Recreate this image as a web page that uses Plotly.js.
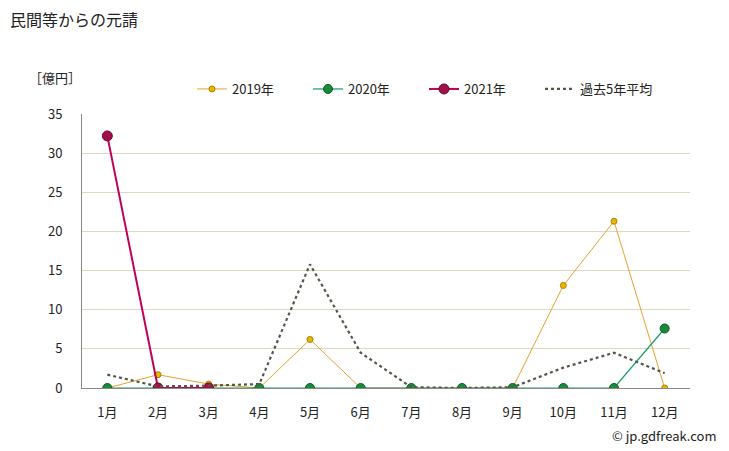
<!DOCTYPE html>
<html>
<head>
<meta charset="utf-8">
<script src="https://cdn.plot.ly/plotly-3.0.1.min.js"></script>
<style>body{margin:0;padding:0;background:#fff}#chart{width:729px;height:451px}</style>
</head>
<body>
<div id="chart"></div>
<script>
const months = ["1月","2月","3月","4月","5月","6月","7月","8月","9月","10月","11月","12月"];
const y2019 = [0, 1.7, 0.5, 0, 6.2, 0, 0, 0, 0, 13.1, 21.3, 0];
const y2020 = [0, 0, 0, 0, 0, 0, 0, 0, 0, 0, 0, 7.6];
const months2021 = ["1月","2月","3月"];
const y2021 = [32.2, 0, 0];
const avg5 = [1.7, 0.2, 0.3, 0.5, 15.8, 4.5, 0.1, 0, 0.1, 2.6, 4.5, 1.9];

const font = "'Noto Sans CJK JP', 'Noto Sans', sans-serif";

const traces = [
  {x: months, y: y2019, name: "2019年", type: "scatter", mode: "lines+markers",
   line: {color: "#e8a030", width: 1},
   marker: {color: "#e6b800", size: 6, line: {color: "#b08000", width: 1}}},
  {x: months, y: y2020, name: "2020年", type: "scatter", mode: "lines+markers",
   line: {color: "#10a060", width: 1.2},
   marker: {color: "#1a8a3a", size: 9, line: {color: "#0c5a24", width: 1}}},
  {x: months2021, y: y2021, name: "2021年", type: "scatter", mode: "lines+markers",
   line: {color: "#c0005a", width: 2},
   marker: {color: "#a0104a", size: 10, line: {color: "#6a0a30", width: 1}}},
  {x: months, y: avg5, name: "過去5年平均", type: "scatter", mode: "lines",
   line: {color: "#555548", width: 2.2, dash: "dot"}}
];

const layout = {
  width: 729, height: 451,
  margin: {l: 82, r: 39, t: 114, b: 63, autoexpand: false},
  paper_bgcolor: "#ffffff", plot_bgcolor: "#ffffff",
  font: {family: font, size: 13, color: "#222"},
  showlegend: true,
  legend: {orientation: "h", xref: "container", yref: "container",
           x: 192 / 729, xanchor: "left", y: 1 - 89 / 451, yanchor: "middle",
           entrywidth: 71, entrywidthmode: "pixels", font: {size: 13, color: "#222"},
           traceorder: "normal", itemwidth: 30, bgcolor: "rgba(0,0,0,0)"},
  xaxis: {type: "category", categoryorder: "array", categoryarray: months,
          range: [-0.5, 11.5], showgrid: false, zeroline: false,
          showline: true, linecolor: "#888", linewidth: 1,
          ticks: "outside", ticklen: 12, tickcolor: "rgba(0,0,0,0)",
          tickfont: {size: 13, color: "#222"}, fixedrange: true},
  yaxis: {range: [0, 35], tickvals: [0,5,10,15,20,25,30,35],
          showgrid: true, gridcolor: "#ddd8c0", gridwidth: 1,
          zeroline: true, zerolinecolor: "#888", zerolinewidth: 1,
          showline: true, linecolor: "#888", linewidth: 1,
          ticks: "outside", ticklen: 16, tickcolor: "rgba(0,0,0,0)",
          tickfont: {size: 13, color: "#222"}, fixedrange: true}
};
const pw = 729 - 82 - 39, ph = 451 - 114 - 63;
function px(x){return (x - 82) / pw;}
function py(y){return (451 - 63 - y) / ph;}
layout.annotations = [
  {text: "民間等からの元請", x: px(8), y: py(19), xref: "paper", yref: "paper",
   xanchor: "left", yanchor: "middle", showarrow: false, font: {size: 16, color: "#222"}},
  {text: "［億円］", x: px(27), y: py(78), xref: "paper", yref: "paper",
   xanchor: "left", yanchor: "middle", showarrow: false, font: {size: 13, color: "#222"}},
  {text: "© jp.gdfreak.com", x: px(719), y: py(435), xref: "paper", yref: "paper",
   xanchor: "right", yanchor: "middle", showarrow: false, font: {size: 13, color: "#222"}}
];

Plotly.newPlot("chart", traces, layout, {displayModeBar: false, staticPlot: true});
</script>
</body>
</html>
